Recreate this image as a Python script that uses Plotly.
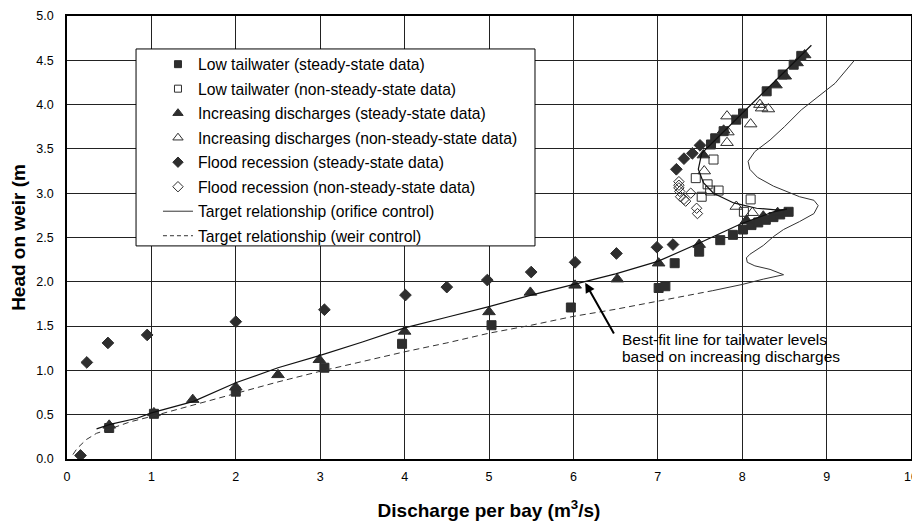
import plotly.graph_objects as go

# ---------------- data ----------------
# Low tailwater (steady-state)
lt_ss_x = [0.50, 1.03, 2.00, 3.05, 3.97, 5.03, 5.97, 7.01, 7.09, 7.20, 7.49, 7.74, 7.89, 8.01,
           8.11, 8.19, 8.28, 8.37, 8.45, 8.55, 7.63, 7.68, 7.78, 7.93, 8.01, 8.29, 8.48, 8.61, 8.70]
lt_ss_y = [0.35, 0.51, 0.76, 1.03, 1.30, 1.51, 1.71, 1.93, 1.95, 2.21, 2.34, 2.47, 2.53, 2.59,
           2.64, 2.67, 2.70, 2.73, 2.76, 2.79, 3.55, 3.62, 3.70, 3.83, 3.90, 4.15, 4.34, 4.45, 4.55]
# Low tailwater (non-steady-state)
lt_ns_x = [7.45, 7.52, 7.59, 7.62, 7.66, 7.72, 8.02, 8.10]
lt_ns_y = [3.17, 2.96, 3.10, 3.03, 3.38, 3.03, 2.79, 2.93]
# Increasing discharges (steady-state)
id_ss_x = [0.50, 1.03, 1.49, 2.00, 2.50, 2.99, 4.00, 5.00, 5.49, 6.02, 6.52, 7.01, 7.49, 8.05,
           8.25, 8.42, 7.54, 7.78, 8.40, 8.51, 8.65, 8.74]
id_ss_y = [0.38, 0.52, 0.67, 0.81, 0.95, 1.12, 1.44, 1.66, 1.88, 1.96, 2.03, 2.21, 2.42, 2.69,
           2.74, 2.78, 3.43, 3.71, 4.22, 4.32, 4.47, 4.56]
# Increasing discharges (non-steady-state)
id_ns_x = [7.55, 7.82, 7.83, 7.82, 8.10, 8.21, 8.23, 8.31, 7.93, 8.12, 8.05]
id_ns_y = [3.25, 3.57, 3.69, 3.87, 3.78, 4.00, 3.96, 3.95, 2.85, 2.78, 2.69]
# Flood recession (steady-state)
fr_ss_x = [0.16, 0.235, 0.485, 0.95, 2.00, 3.05, 4.01, 4.50, 4.98, 5.50, 6.02, 6.51, 6.99, 7.18,
           7.22, 7.31, 7.41, 7.50]
fr_ss_y = [0.04, 1.09, 1.31, 1.40, 1.55, 1.685, 1.85, 1.94, 2.02, 2.11, 2.22, 2.32, 2.39, 2.42,
           3.27, 3.39, 3.45, 3.54]
# Flood recession (non-steady-state)
fr_ns_x = [7.25, 7.25, 7.25, 7.26, 7.27, 7.31, 7.33, 7.39, 7.46, 7.47]
fr_ns_y = [3.13, 3.09, 3.06, 3.02, 2.96, 2.93, 2.91, 3.00, 2.83, 2.77]

# Target relationship (weir control) - dashed
weir_x = [0.07, 0.12, 0.23, 0.35, 0.51, 0.75, 1.0, 1.5, 2.0, 2.5, 3.0, 3.5, 4.0, 4.5, 5.0, 5.5,
          6.0, 6.5, 7.0, 7.5, 7.65]
weir_y = [0.05, 0.12, 0.22, 0.29, 0.34, 0.42, 0.48, 0.61, 0.74, 0.87, 0.99, 1.10, 1.21, 1.31,
          1.42, 1.51, 1.61, 1.69, 1.78, 1.87, 1.90]
# Target relationship (orifice control) - solid thin
orif_x = [7.65, 8.0, 8.25, 8.49, 8.33, 8.15, 8.06, 8.05, 8.09, 8.17, 8.25, 8.37, 8.49, 8.68,
          8.85, 8.9, 8.85, 8.68, 8.37, 8.18, 8.09, 8.07, 8.15, 8.33, 8.5, 8.7, 9.1, 9.33]
orif_y = [1.90, 1.97, 2.03, 2.08, 2.14, 2.18, 2.22, 2.27, 2.31, 2.36, 2.41, 2.51, 2.59, 2.68,
          2.77, 2.86, 2.92, 2.96, 3.08, 3.18, 3.27, 3.36, 3.47, 3.60, 3.75, 3.94, 4.24, 4.50]
# Best-fit line for tailwater levels
fit_x = [0.35, 0.51, 0.83, 1.0, 1.5, 2.0, 2.5, 3.0, 3.5, 4.0, 4.5, 5.0, 5.5, 6.0, 6.5, 7.0,
         7.5, 8.0, 8.37, 8.53, 8.43, 8.17, 7.9, 7.66, 7.54, 7.48, 7.52, 7.68, 8.82]
fit_y = [0.34, 0.39, 0.46, 0.52, 0.65, 0.86, 1.03, 1.17, 1.32, 1.48, 1.60, 1.72, 1.85, 1.97,
         2.09, 2.23, 2.44, 2.66, 2.79, 2.82, 2.81, 2.83, 2.89, 3.00, 3.12, 3.27, 3.45, 3.60, 4.67]

legend_names = [
    "Low tailwater (steady-state data)",
    "Low tailwater (non-steady-state data)",
    "Increasing discharges (steady-state data)",
    "Increasing discharges (non-steady-state data)",
    "Flood recession (steady-state data)",
    "Flood recession (non-steady-state data)",
    "Target relationship (orifice control)",
    "Target relationship (weir control)",
]
note_lines = ["Best-fit line for tailwater levels", "based on increasing discharges"]

FONT = "Arial, Liberation Sans, sans-serif"
MK = "#2e2e2e"

fig = go.Figure()

series = [
    (lt_ss_x, lt_ss_y, "square", 9, 7),
    (lt_ns_x, lt_ns_y, "square-open", 9, 7),
    (id_ss_x, id_ss_y, "triangle-up", 11, 9),
    (id_ns_x, id_ns_y, "triangle-up-open", 11, 9),
    (fr_ss_x, fr_ss_y, "diamond", 9, 8),
    (fr_ns_x, fr_ns_y, "diamond-open", 8, 8),
]

for (xs, ys, sym, sz, _), name in zip(series, legend_names):
    fig.add_trace(go.Scatter(x=xs, y=ys, mode="markers", name=name, showlegend=False,
                             marker=dict(symbol=sym, size=sz, color=MK, line=dict(color=MK, width=1))))

fig.add_trace(go.Scatter(x=weir_x, y=weir_y, mode="lines", showlegend=False,
                         line=dict(color="#333", width=1, dash="6px,4px")))
fig.add_trace(go.Scatter(x=orif_x, y=orif_y, mode="lines", showlegend=False,
                         line=dict(color="#333", width=1)))
fig.add_trace(go.Scatter(x=fit_x, y=fit_y, mode="lines", showlegend=False,
                         line=dict(color="#111", width=1.2)))

# legend entries (dummy traces)
for i, ((_, _, sym, _, lsz), name) in enumerate(zip(series, legend_names)):
    fig.add_trace(go.Scatter(x=[None], y=[None], mode="markers", name=name, legendgroup=f"g{i}",
                             marker=dict(symbol=sym, size=lsz, color=MK, line=dict(color=MK, width=1))))
fig.add_trace(go.Scatter(x=[None], y=[None], mode="lines", name=legend_names[6], legendgroup="g6",
                         line=dict(color="#333", width=1)))
fig.add_trace(go.Scatter(x=[None], y=[None], mode="lines", name=legend_names[7], legendgroup="g7",
                         line=dict(color="#333", width=1, dash="4px,3px")))

fig.add_shape(type="rect", xref="paper", yref="paper", x0=0.0818, x1=0.5545, y0=0.481, y1=0.9256,
              fillcolor="white", line=dict(color="black", width=1), layer="above")

fig.add_annotation(x=6.14, y=1.99, ax=6.49, ay=1.40, axref="x", ayref="y", text="",
                   showarrow=True, arrowhead=2, arrowsize=1, arrowwidth=2, arrowcolor="black")
fig.add_annotation(x=6.55, y=1.347, xanchor="left", yanchor="middle", align="left", showarrow=False,
                   text=note_lines[0], font=dict(family=FONT, size=15.5, color="black"))
fig.add_annotation(x=6.55, y=1.155, xanchor="left", yanchor="middle", align="left", showarrow=False,
                   text=note_lines[1], font=dict(family=FONT, size=15.5, color="black"))

# page body has an 8px default margin, so the figure is sized to fill the rest of the window
fig.update_layout(
    width=912, height=514,
    margin=dict(l=59, r=9, t=8, b=63),
    paper_bgcolor="white", plot_bgcolor="white",
    font=dict(family=FONT, color="black"),
    legend=dict(x=0.1078, y=0.929, xanchor="left", yanchor="top", bgcolor="rgba(0,0,0,0)",
                borderwidth=0, font=dict(family=FONT, size=15.7, color="black"),
                tracegroupgap=1.1, traceorder="grouped"),
)
fig.update_xaxes(range=[0, 10], dtick=1, tick0=0, showgrid=True, gridcolor="#222", gridwidth=1,
                 showline=True, linecolor="black", linewidth=1.5, mirror=True, zeroline=False,
                 automargin=False,
                 ticks="", tickfont=dict(size=12.5, family=FONT), ticklabelstandoff=5,
                 title=dict(text="Discharge per bay (m<sup>3</sup>/s)", standoff=21,
                            font=dict(size=19, family=FONT, weight="bold")))
fig.update_yaxes(range=[0, 5], dtick=0.5, tick0=0, tickformat=".1f", showgrid=True, gridcolor="#222",
                 gridwidth=1, showline=True, linecolor="black", linewidth=1.5, mirror=True,
                 zeroline=False, automargin=False,
                 ticks="", tickfont=dict(size=12.5, family=FONT), ticklabelstandoff=9,
                 title=dict(text="Head on weir (m", standoff=7,
                            font=dict(size=19, family=FONT, weight="bold")))

fig.write_html("out.html")
